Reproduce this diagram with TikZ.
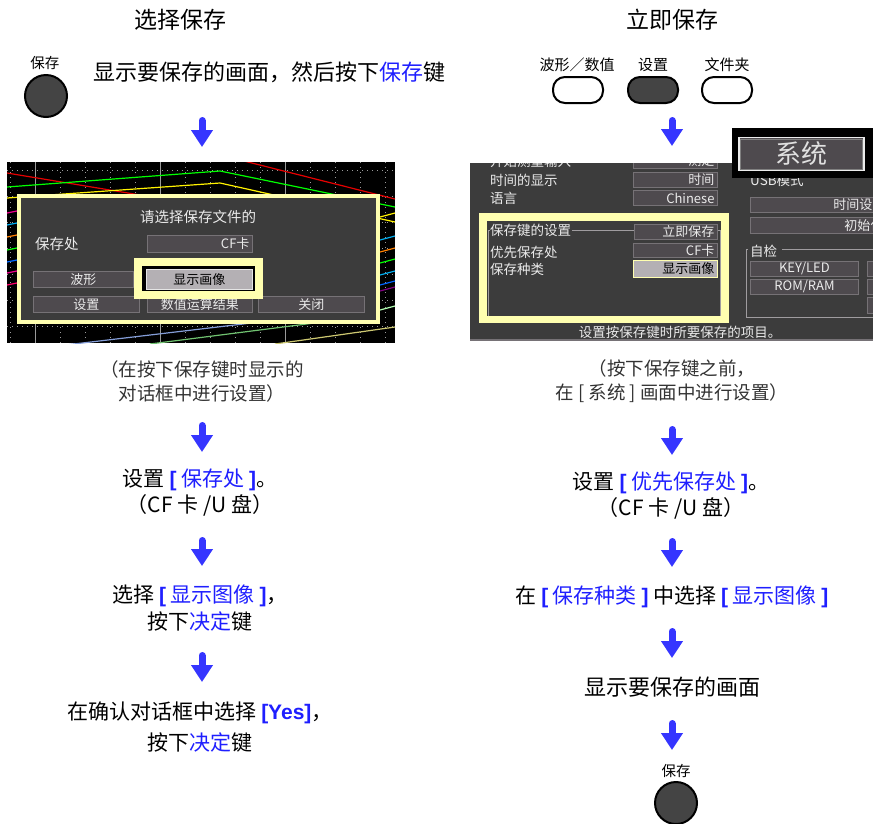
\documentclass[tikz,border=0pt]{standalone}
\usepackage{fontspec}
\setmainfont{Noto Sans CJK SC}
\newfontfamily\latinfont{Liberation Sans}
\usetikzlibrary{arrows.meta}

\definecolor{keyblue}{HTML}{1F1FFF}
\definecolor{arrowblue}{HTML}{3535FF}
\definecolor{notegray}{HTML}{333333}
\definecolor{keygray}{HTML}{444444}
\definecolor{scrgray}{HTML}{3C3C3C}
\definecolor{fieldgray}{HTML}{4E4A4E}
\definecolor{fieldedge}{HTML}{767276}
\definecolor{selgray}{HTML}{B4B0B4}
\definecolor{hlyellow}{HTML}{FFFFB0}
\definecolor{gridgray}{HTML}{9A9A9A}

\newcommand\hl[1]{\textcolor{keyblue}{#1}}
\newcommand\bk[1]{\textcolor{keyblue}{{\latinfont\bfseries #1}}}

\tikzset{
  title/.style={font=\fontsize{23}{26}\selectfont, inner sep=0pt},
  steptext/.style={font=\fontsize{21}{27}\selectfont, align=center, inner sep=0pt},
  note/.style={font=\fontsize{18.5}{24}\selectfont, text=notegray, align=center, inner sep=0pt},
  keylabel/.style={font=\fontsize{14.5}{16}\selectfont, inner sep=0pt},
  roundkey/.style={circle, draw=black, line width=2pt, fill=keygray, minimum size=42pt, inner sep=0pt},
  ovalkey/.style={draw=black, line width=2pt, fill=white, rounded corners=12pt, minimum width=50pt, minimum height=26pt, inner sep=0pt},
  flow/.style={draw=arrowblue, line width=7pt, line cap=round, -{Triangle[width=21pt,length=17pt]}},
  field/.style={draw=fieldedge, fill=fieldgray, line width=0.9pt, inner sep=0pt, inner xsep=3pt, anchor=north west, text=white!92!black, font=\fontsize{13}{14}\selectfont},
  scrtext/.style={text=white!92!black, font=\fontsize{13.5}{14}\selectfont, inner sep=0pt, anchor=west},
  grpline/.style={draw=fieldedge!70!white, line width=0.8pt},
}

\begin{document}
\begin{tikzpicture}[x=1pt, y=-1pt]
\useasboundingbox (0,0) rectangle (873,823);

% left column: save by selection
\node[title] (ttlsel) at (180,20) {选择保存};
\node[keylabel] (savelblA) at (45,63) {保存};
\node[roundkey] (savekeyA) at (46,96) {};
\node[steptext, font=\fontsize{22}{27}\selectfont, anchor=west] (selA) at (93,72) {显示要保存的画面，然后按下\hl{保存}键};

\begin{scope}
  \clip (7,162) rectangle (395,343);
  \fill[black] (7,162) rectangle (395,343);
  \foreach \x in {10,35,...,395}
    \draw[gridgray, line width=1pt, dash pattern=on 1pt off 4pt] (\x,162) -- (\x,343);
  \foreach \x in {35,160,285}
    \draw[gridgray, line width=1pt] (\x,162) -- (\x,343);
  \foreach \y in {170,196,...,343}
    \draw[gridgray, line width=1pt, dash pattern=on 1pt off 4pt] (7,\y) -- (395,\y);
  \draw[red!90!black, line width=1.2pt] (7,173) -- (140,195);
  \draw[red!90!black, line width=1.2pt] (232,158) -- (395,199);
  \draw[green, line width=1.2pt] (7,187) -- (220,171) -- (395,207);
  \draw[yellow, line width=1.2pt] (7,198) -- (220,183) -- (395,222);
  \foreach \y/\c in {213/magenta,225/cyan,237/orange,250/green,262/blue!60!cyan,273/magenta,285/red!60!magenta}
    \draw[\c, line width=1.2pt] (7,\y) -- (17,{\y-2});
  \foreach \y/\c in {217/yellow,240/cyan,252/orange,263/green,275/cyan,285/blue!60!cyan,291/violet,310/green!30!white}
    \draw[\c, line width=1.2pt] (380,\y) -- (395,{\y-4});
  \draw[cyan!40!blue!50!white, line width=1.2pt] (40,348) -- (260,322);
  \draw[green!40!gray!80!white, line width=1.2pt] (150,344) -- (330,321);
  \draw[yellow!50!gray!90!white, line width=1.2pt] (275,344) -- (395,327);
\end{scope}
\fill[hlyellow] (17,194) rectangle (380,324);
\fill[scrgray] (21,198) rectangle (376,320);
\node[scrtext, font=\fontsize{14.5}{15}\selectfont, anchor=center] (dlgtitle) at (198,217) {请选择保存文件的};
\node[scrtext, font=\fontsize{14.5}{15}\selectfont] (dlgdest) at (35,244) {保存处};
\node[field, text width=99pt, minimum height=17pt, align=right] (dlgdestval) at (147,235) {CF卡};
\node[field, text width=94pt, minimum height=16pt, align=center] (btnwave) at (33,271) {波形};
\node[field, text width=100pt, minimum height=16pt, align=center] (btnset) at (33,296) {设置};
\node[field, text width=99pt, minimum height=16pt, align=center] (btncalc) at (147,296) {数值运算结果};
\node[field, text width=100pt, minimum height=16pt, align=center] (btnclose) at (258,296) {关闭};
\fill[hlyellow] (134,258) rectangle (263,299);
\fill[black] (142,266) rectangle (255,291);
\node[field, fill=selgray, draw=white!80!gray, text=black, text width=100pt, minimum height=20pt, align=center] (btnimage) at (146,269) {显示画像};

\node[note] (noteA) at (202,381) {（在按下保存键时显示的\\对话框中进行设置）};
\node[steptext, font=\fontsize{21}{26}\selectfont] (selB) at (200,493) {设置 \bk{[} \hl{保存处} \bk{]}。\\（CF 卡 /U 盘）};
\node[steptext] (selC) at (200,608) {选择 \bk{[} \hl{显示图像} \bk{]}，\\按下\hl{决定}键};
\node[steptext, font=\fontsize{21}{31}\selectfont] (selD) at (200,727) {在确认对话框中选择 \bk{[Yes]}，\\按下\hl{决定}键};

\coordinate (selA1) at (202,120.5);
\coordinate (selA2) at (202,147);
\coordinate (selB1) at (202,425.5);
\coordinate (selB2) at (202,452);
\coordinate (selC1) at (202,540.5);
\coordinate (selC2) at (202,566);
\coordinate (selD1) at (202,655.5);
\coordinate (selD2) at (202,682);
\draw[flow] (selA1) -- (selA2);
\draw[flow] (selB1) -- (selB2);
\draw[flow] (selC1) -- (selC2);
\draw[flow] (selD1) -- (selD2);

% right column: instant save
\node[title] (ttlnow) at (672,20) {立即保存};
\node[keylabel, font=\fontsize{15}{16}\selectfont] (wavelbl) at (577,65) {波形／数值};
\node[keylabel, font=\fontsize{15}{16}\selectfont] (setlbl) at (653,65) {设置};
\node[keylabel, font=\fontsize{15}{16}\selectfont] (filelbl) at (727,65) {文件夹};
\node[ovalkey] (wavekey) at (578,90) {};
\node[ovalkey, fill=keygray] (setkey) at (653,90) {};
\node[ovalkey] (filekey) at (727,90) {};

\begin{scope}
  \clip (470,163) rectangle (873,341);
  \fill[scrgray] (470,163) rectangle (873,341);
  \draw[fieldedge, line width=1.5pt] (470,340) -- (873,340);
  \node[scrtext] (rowtop) at (490,161) {开始测量输入};
  \node[field, text width=78pt, minimum height=15pt, align=right] (valtop) at (633,153) {测定};
  \node[scrtext] (rowtime) at (490,180) {时间的显示};
  \node[field, text width=78pt, minimum height=15pt, align=right] (valtime) at (633,172) {时间};
  \node[scrtext] (rowlang) at (490,198) {语言};
  \node[field, text width=78pt, minimum height=15pt, align=right] (vallang) at (633,190) {Chinese};
  \fill[hlyellow] (479,213) rectangle (729,323);
  \fill[scrgray] (487,221) rectangle (721,316);
  \draw[grpline] (488,316) -- (488,230) -- (490,230);
  \draw[grpline] (572,230) -- (720,230) -- (720,316);
  \node[scrtext] (grpsave) at (490,230) {保存键的设置};
  \node[field, text width=77pt, minimum height=15pt, align=right] (valmode) at (634,224) {立即保存};
  \node[scrtext] (rowprio) at (490,252) {优先保存处};
  \node[field, text width=78pt, minimum height=14pt, align=right] (valprio) at (633,243) {CF卡};
  \node[scrtext] (rowkind) at (490,269) {保存种类};
  \node[field, fill=selgray, draw=hlyellow, text=black, text width=78pt, minimum height=17pt, align=right] (valkind) at (633,260) {显示画像};
  \node[scrtext] (rowusb) at (750,180) {USB模式};
  \node[field, text width=132pt, minimum height=15pt, align=right] (valclock) at (750,197) {时间设置};
  \node[field, text width=130pt, minimum height=16pt, align=right] (valinit) at (750,217) {初始化};
  \draw[grpline] (748,249) -- (746,249) -- (746,317) -- (880,317);
  \draw[grpline] (782,249) -- (880,249);
  \node[scrtext] (grpself) at (750,251) {自检};
  \node[field, text width=102pt, minimum height=15pt, align=center] (valkey) at (750,261) {KEY/LED};
  \node[field, text width=102pt, minimum height=15pt, align=center] (valrom) at (750,279) {ROM/RAM};
  \foreach \y/\h in {261/15,279/15,297/16}
    \node[field, text width=24pt, minimum height=\h pt] at (867,\y) {};
  \node[scrtext, anchor=center] (hint) at (680,332) {设置按保存键时所要保存的项目。};
\end{scope}
\fill[black] (732,128) rectangle (873,178);
\node[draw=white!85!gray, line width=1.8pt, fill=fieldgray, minimum width=125pt, minimum height=33pt, inner sep=0pt, text=white!88!black, font=\fontsize{26}{28}\selectfont] (tabsys) at (801.5,154) {系统};
\draw[gray, line width=0.8pt] ([shift={(2.5pt,-2.5pt)}]tabsys.north west) rectangle ([shift={(-2.5pt,2.5pt)}]tabsys.south east);

\node[note] (noteB) at (672,381) {（按下保存键之前，\\在 [ 系统 ] 画面中进行设置）};
\node[steptext, font=\fontsize{21}{26}\selectfont] (nowB) at (671,496) {设置 \bk{[} \hl{优先保存处} \bk{]}。\\（CF 卡 /U 盘）};
\node[steptext] (nowC) at (672,597) {在 \bk{[} \hl{保存种类} \bk{]} 中选择 \bk{[} \hl{显示图像} \bk{]}};
\node[steptext, font=\fontsize{22}{27}\selectfont] (nowD) at (672,687) {显示要保存的画面};
\node[keylabel] (savelblB) at (676,771) {保存};
\node[roundkey] (savekeyB) at (676,803) {};

\coordinate (nowA1) at (672,120.5);
\coordinate (nowA2) at (672,146);
\coordinate (nowB1) at (672,429.5);
\coordinate (nowB2) at (672,455);
\coordinate (nowC1) at (672,541.5);
\coordinate (nowC2) at (672,567);
\coordinate (nowD1) at (672,631.5);
\coordinate (nowD2) at (672,658);
\coordinate (nowE1) at (672,723.5);
\coordinate (nowE2) at (672,750);
\draw[flow] (nowA1) -- (nowA2);
\draw[flow] (nowB1) -- (nowB2);
\draw[flow] (nowC1) -- (nowC2);
\draw[flow] (nowD1) -- (nowD2);
\draw[flow] (nowE1) -- (nowE2);
\end{tikzpicture}
\end{document}
